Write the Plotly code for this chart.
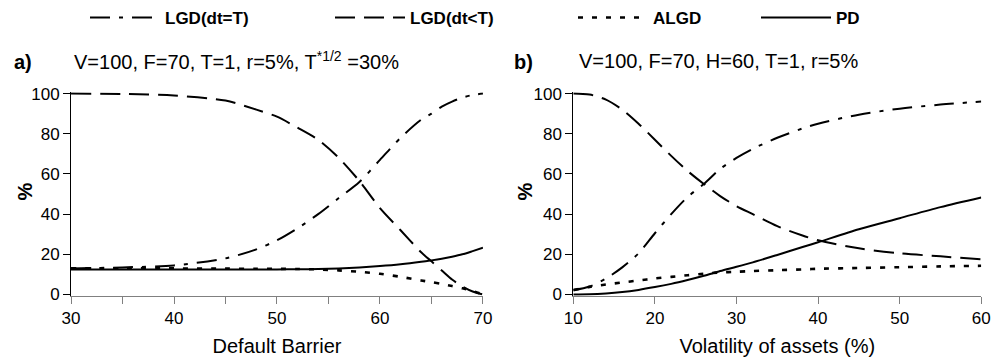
import plotly.graph_objects as go

# ---------------- data ----------------
barrier = [30, 35, 40, 45, 48, 50, 52, 54, 56, 58, 60, 62, 64, 65, 66, 67, 68, 69, 70]
lgd_eq_a = [13, 13.5, 14.5, 18, 22.5, 27, 33, 40, 48, 56, 67, 78, 87, 90, 93.5, 96, 98, 99.3, 100]
lgd_lt_a = [100, 99.8, 99, 96.5, 92, 88.5, 83, 77, 68, 56.5, 43, 32, 21, 16.5, 12, 7.5, 4, 1.5, 0]
algd_a = [13, 13, 13, 12.9, 12.8, 12.8, 12.7, 12.5, 12, 11.3, 10.3, 8.8, 7, 6.2, 5.3, 4.2, 3.1, 1.8, 0]
pd_a = [12.5, 12.5, 12.5, 12.5, 12.5, 12.5, 12.6, 12.7, 13, 13.5, 14.2, 15.1, 16.3, 17, 17.8, 18.8, 20, 21.6, 23.3]

vol = [10, 12, 14, 16, 18, 20, 22, 24, 26, 28, 30, 32, 35, 38, 40, 45, 50, 55, 60]
lgd_eq_b = [2.2, 4, 8, 13.5, 20.5, 30.5, 40, 48.5, 55, 62.5, 68, 72.5, 78, 82.5, 85, 89.5, 92.5, 94.5, 96]
lgd_lt_b = [100, 99.5, 97, 92, 85, 77, 69, 61.5, 55, 49, 44, 40, 34, 29.5, 27, 23, 20.5, 19, 17.5]
algd_b = [2.2, 3.8, 5, 6, 7, 8, 8.8, 9.6, 10.3, 11, 11.3, 11.7, 12.1, 12.5, 12.8, 13.2, 13.6, 14, 14.3]
pd_b = [0, 0.1, 0.5, 1.2, 2.3, 3.7, 5.3, 7.2, 9.3, 11.7, 13.8, 16, 19.7, 23.5, 26, 32.5, 38, 43.5, 48.3]

series_names = ["LGD(dt=T)", "LGD(dt<T)", "ALGD", "PD"]
y_ticks = [0, 20, 40, 60, 80, 100]
x_ticks_a = [30, 40, 50, 60, 70]
x_ticks_b = [10, 20, 30, 40, 50, 60]

title_a = "V=100, F=70, T=1, r=5%, T<sup>*1/2</sup> =30%"
title_b = "V=100, F=70, H=60, T=1, r=5%"
xtitle_a = "Default Barrier"
xtitle_b = "Volatility of assets (%)"
ytitle = "<b>%</b>"

# ---------------- styling ----------------
FONT = "Liberation Sans, Arial, sans-serif"
dashes = ["20px,9px,4px,9px", "20px,9px", "5px,9px", "solid"]
widths = [2, 2, 2.6, 2]
legends = ["legend", "legend2", "legend3", "legend4"]

fig = go.Figure()
panels = [
    (barrier, [lgd_eq_a, lgd_lt_a, algd_a, pd_a], "x", "y", True),
    (vol, [lgd_eq_b, lgd_lt_b, algd_b, pd_b], "x2", "y2", False),
]
for xs, ys_list, xa, ya, show in panels:
    for i, ys in enumerate(ys_list):
        fig.add_trace(go.Scatter(
            x=xs, y=ys, mode="lines", name=series_names[i],
            line=dict(color="black", width=widths[i], dash=dashes[i], shape="spline", smoothing=0.8),
            xaxis=xa, yaxis=ya, showlegend=show, legend=legends[i],
        ))

ydom = [0.1823, 0.7504]
yaxis_common = dict(
    range=[-0.6, 100.6], tickvals=y_ticks, ticks="outside", ticklen=7, tickcolor="black",
    showline=True, linecolor="black", linewidth=1, showgrid=False, zeroline=False,
    tickfont=dict(family=FONT, size=17, color="black"),
    automargin=False, domain=ydom,
)
xaxis_common = dict(
    ticks="outside", ticklen=7, tickcolor="#808080",
    showline=True, linecolor="#808080", linewidth=1, showgrid=False, zeroline=False,
    tickfont=dict(family=FONT, size=17, color="black"),
    automargin=False,
)

fig.update_layout(
    width=996, height=361,
    margin=dict(l=0, r=0, t=0, b=0),
    paper_bgcolor="white", plot_bgcolor="white",
    font=dict(family=FONT, color="black"),
    xaxis=dict(**xaxis_common, domain=[0.0713, 0.4849], range=[30, 70], tickvals=x_ticks_a,
               minor=dict(dtick=5, tick0=30, ticks="outside", ticklen=7, tickcolor="#808080"),
               title=dict(text=xtitle_a, font=dict(family=FONT, size=20, color="black"), standoff=11),
               anchor="y"),
    yaxis=dict(**yaxis_common, anchor="x"),
    xaxis2=dict(**xaxis_common, domain=[0.5756, 0.9852], range=[10, 60], tickvals=x_ticks_b,
                title=dict(text=xtitle_b, font=dict(family=FONT, size=20, color="black"), standoff=11),
                anchor="y2"),
    yaxis2=dict(**yaxis_common, anchor="x2"),
)

legend_x = [85, 330, 573, 756]
for i, lg in enumerate(legends):
    fig.update_layout({lg: dict(
        x=legend_x[i] / 996, y=1 - 15 / 361, xanchor="left", yanchor="middle",
        orientation="h", bgcolor="rgba(0,0,0,0)", borderwidth=0, itemwidth=70,
        font=dict(family=FONT, size=17, color="black", weight="bold"),
    )})

annots = [
    dict(x=12 / 996, y=1 - 59 / 361, text="<b>a)</b>", xanchor="left"),
    dict(x=72 / 996, y=1 - 58 / 361, text=title_a, xanchor="left"),
    dict(x=512 / 996, y=1 - 59 / 361, text="<b>b)</b>", xanchor="left"),
    dict(x=577 / 996, y=1 - 58 / 361, text=title_b, xanchor="left"),
]
for a in annots:
    fig.add_annotation(xref="paper", yref="paper", yanchor="middle", showarrow=False,
                       font=dict(family=FONT, size=20, color="black"), **a)
for xc in (25, 525):
    fig.add_annotation(xref="paper", yref="paper", x=xc / 996, y=1 - 190 / 361,
                       text=ytitle, textangle=-90, showarrow=False,
                       xanchor="center", yanchor="middle",
                       font=dict(family=FONT, size=20, color="black"))

fig.write_html("out.html", config={"displayModeBar": False},
               post_script="document.body.style.margin='0px';")
